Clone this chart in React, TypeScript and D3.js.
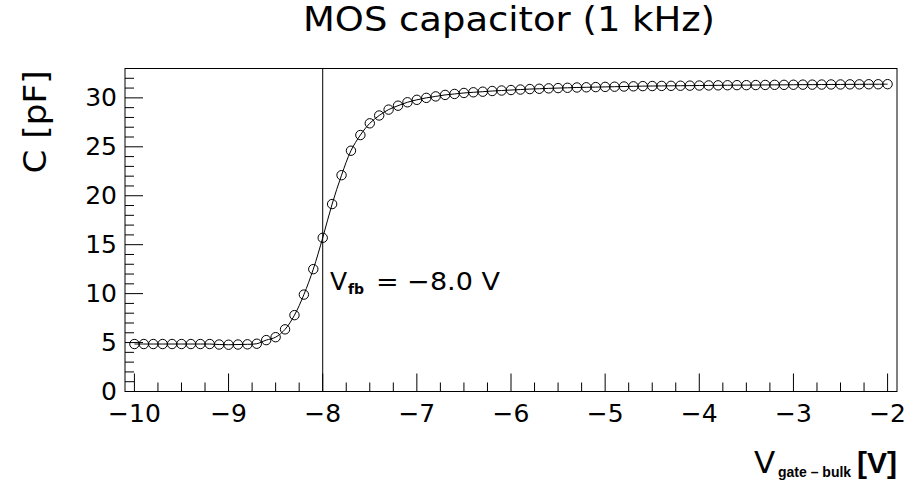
import React from "react";
import * as d3 from "d3";

// Gate–bulk voltage sweep [V]
const voltages = [
  -10.0, -9.9, -9.8, -9.7, -9.6, -9.5, -9.4, -9.3, -9.2, -9.1,
  -9.0, -8.9, -8.8, -8.7, -8.6, -8.5, -8.4, -8.3, -8.2, -8.1,
  -8.0, -7.9, -7.8, -7.7, -7.6, -7.5, -7.4, -7.3, -7.2, -7.1,
  -7.0, -6.9, -6.8, -6.7, -6.6, -6.5, -6.4, -6.3, -6.2, -6.1,
  -6.0, -5.9, -5.8, -5.7, -5.6, -5.5, -5.4, -5.3, -5.2, -5.1,
  -5.0, -4.9, -4.8, -4.7, -4.6, -4.5, -4.4, -4.3, -4.2, -4.1,
  -4.0, -3.9, -3.8, -3.7, -3.6, -3.5, -3.4, -3.3, -3.2, -3.1,
  -3.0, -2.9, -2.8, -2.7, -2.6, -2.5, -2.4, -2.3, -2.2, -2.1,
  -2.0,
];

// Measured capacitance [pF]
const capacitance = [
  4.85, 4.85, 4.85, 4.85, 4.85, 4.85, 4.85, 4.85, 4.85, 4.8,
  4.78, 4.8, 4.82, 4.88, 5.25, 5.55, 6.35, 7.8, 9.9, 12.5,
  15.7, 19.15, 22.1, 24.6, 26.2, 27.4, 28.2, 28.8, 29.2, 29.55,
  29.8, 30.0, 30.15, 30.3, 30.4, 30.5, 30.57, 30.63, 30.7, 30.75,
  30.8, 30.85, 30.9, 30.93, 30.97, 31.0, 31.03, 31.06, 31.08, 31.1,
  31.12, 31.14, 31.16, 31.18, 31.2, 31.21, 31.22, 31.23, 31.24, 31.25,
  31.26, 31.27, 31.28, 31.29, 31.3, 31.3, 31.31, 31.32, 31.33, 31.33,
  31.34, 31.35, 31.35, 31.36, 31.37, 31.37, 31.38, 31.38, 31.39, 31.39,
  31.4,
];

const xTickValues = [-10, -9, -8, -7, -6, -5, -4, -3, -2];
const yTickValues = [0, 5, 10, 15, 20, 25, 30];
const flatbandVoltage = -8.0;

const W = 907;
const H = 494;
const frame = { left: 125, right: 897, top: 68.5, bottom: 391.5 };
const FONT = "'DejaVu Sans', sans-serif";
const BOLD_FONT = "'Liberation Sans', Arial, sans-serif";

export default function App() {
  const x = d3.scaleLinear().domain([-10.1, -1.9]).range([frame.left, frame.right]);
  const y = d3.scaleLinear().domain([0, 33]).range([frame.bottom, frame.top]);

  const points = voltages.map((v, i) => [v, capacitance[i]] as [number, number]);
  const line = d3
    .line<[number, number]>()
    .x((d) => x(d[0]))
    .y((d) => y(d[1]))
    .curve(d3.curveCatmullRom.alpha(0.5));

  // Minor ticks: x every 0.25 V, y every 1 pF
  const xMinor = d3
    .range(-40, -7)
    .map((k) => k / 4)
    .filter((v) => v >= -10.1 && v <= -1.9 && !Number.isInteger(v));
  const yMinor = d3.range(0, 34).filter((v) => v % 5 !== 0 && v <= 33);

  const majorLen = 18;
  const minorLen = 9;

  return (
    <svg
      width={W}
      height={H}
      style={{ position: "fixed", left: 0, top: 0, background: "#fff" }}
      fontFamily={FONT}
    >
      <rect width={W} height={H} fill="#fff" />

      {/* Title */}
      <text x={509} y={31} fontSize={33} textAnchor="middle" textLength={412} lengthAdjust="spacingAndGlyphs">
        MOS capacitor (1 kHz)
      </text>

      {/* Frame */}
      <rect
        x={frame.left}
        y={frame.top}
        width={frame.right - frame.left}
        height={frame.bottom - frame.top}
        fill="none"
        stroke="#000"
        strokeWidth={1}
      />

      {/* X ticks */}
      {xTickValues.map((v) => (
        <line key={"xM" + v} x1={x(v)} x2={x(v)} y1={frame.bottom} y2={frame.bottom - majorLen} stroke="#000" strokeWidth={1} />
      ))}
      {xMinor.map((v) => (
        <line key={"xm" + v} x1={x(v)} x2={x(v)} y1={frame.bottom} y2={frame.bottom - minorLen} stroke="#000" strokeWidth={1} />
      ))}
      {xTickValues.map((v) => (
        <text key={"xl" + v} x={x(v)} y={frame.bottom + 30.5} fontSize={25} textAnchor="middle">
          {v < 0 ? "\u2212" + Math.abs(v) : String(v)}
        </text>
      ))}

      {/* Y ticks */}
      {yTickValues.map((v) => (
        <line key={"yM" + v} x1={frame.left} x2={frame.left + majorLen} y1={y(v)} y2={y(v)} stroke="#000" strokeWidth={1} />
      ))}
      {yMinor.map((v) => (
        <line key={"ym" + v} x1={frame.left} x2={frame.left + minorLen} y1={y(v)} y2={y(v)} stroke="#000" strokeWidth={1} />
      ))}
      {yTickValues.map((v) => (
        <text key={"yl" + v} x={frame.left - 8} y={y(v) + 8.5} fontSize={25} textAnchor="end">
          {v}
        </text>
      ))}

      {/* Axis titles */}
      <text
        transform={`translate(46, 122) rotate(-90)`}
        fontSize={32}
        textAnchor="middle"
        textLength={103}
        lengthAdjust="spacingAndGlyphs"
      >
        C [pF]
      </text>
      <text y={473} fontSize={31}>
        <tspan x={754}>V</tspan>
        <tspan x={778} dy={4} fontSize={14} fontWeight="bold" fontFamily={BOLD_FONT}>
          gate {"\u2013"} bulk
        </tspan>
        <tspan x={857} dy={-4} fontSize={30} fontWeight="bold" fontFamily={BOLD_FONT}>
          [V]
        </tspan>
      </text>

      {/* Flat-band voltage marker */}
      <line x1={x(flatbandVoltage)} x2={x(flatbandVoltage)} y1={frame.top} y2={frame.bottom} stroke="#000" strokeWidth={1} />
      <text y={290} fontSize={25}>
        <tspan x={330}>V</tspan>
        <tspan x={348} dy={4} fontSize={14} fontWeight="bold">
          fb
        </tspan>
        <tspan x={376} dy={-4} textLength={124} lengthAdjust="spacingAndGlyphs">
          = {"\u2212"}8.0 V
        </tspan>
      </text>

      {/* C–V curve */}
      <path d={line(points) ?? ""} fill="none" stroke="#000" strokeWidth={1} />
      {points.map((d, i) => (
        <circle key={"p" + i} cx={x(d[0])} cy={y(d[1])} r={4.7} fill="none" stroke="#000" strokeWidth={1} />
      ))}
    </svg>
  );
}
